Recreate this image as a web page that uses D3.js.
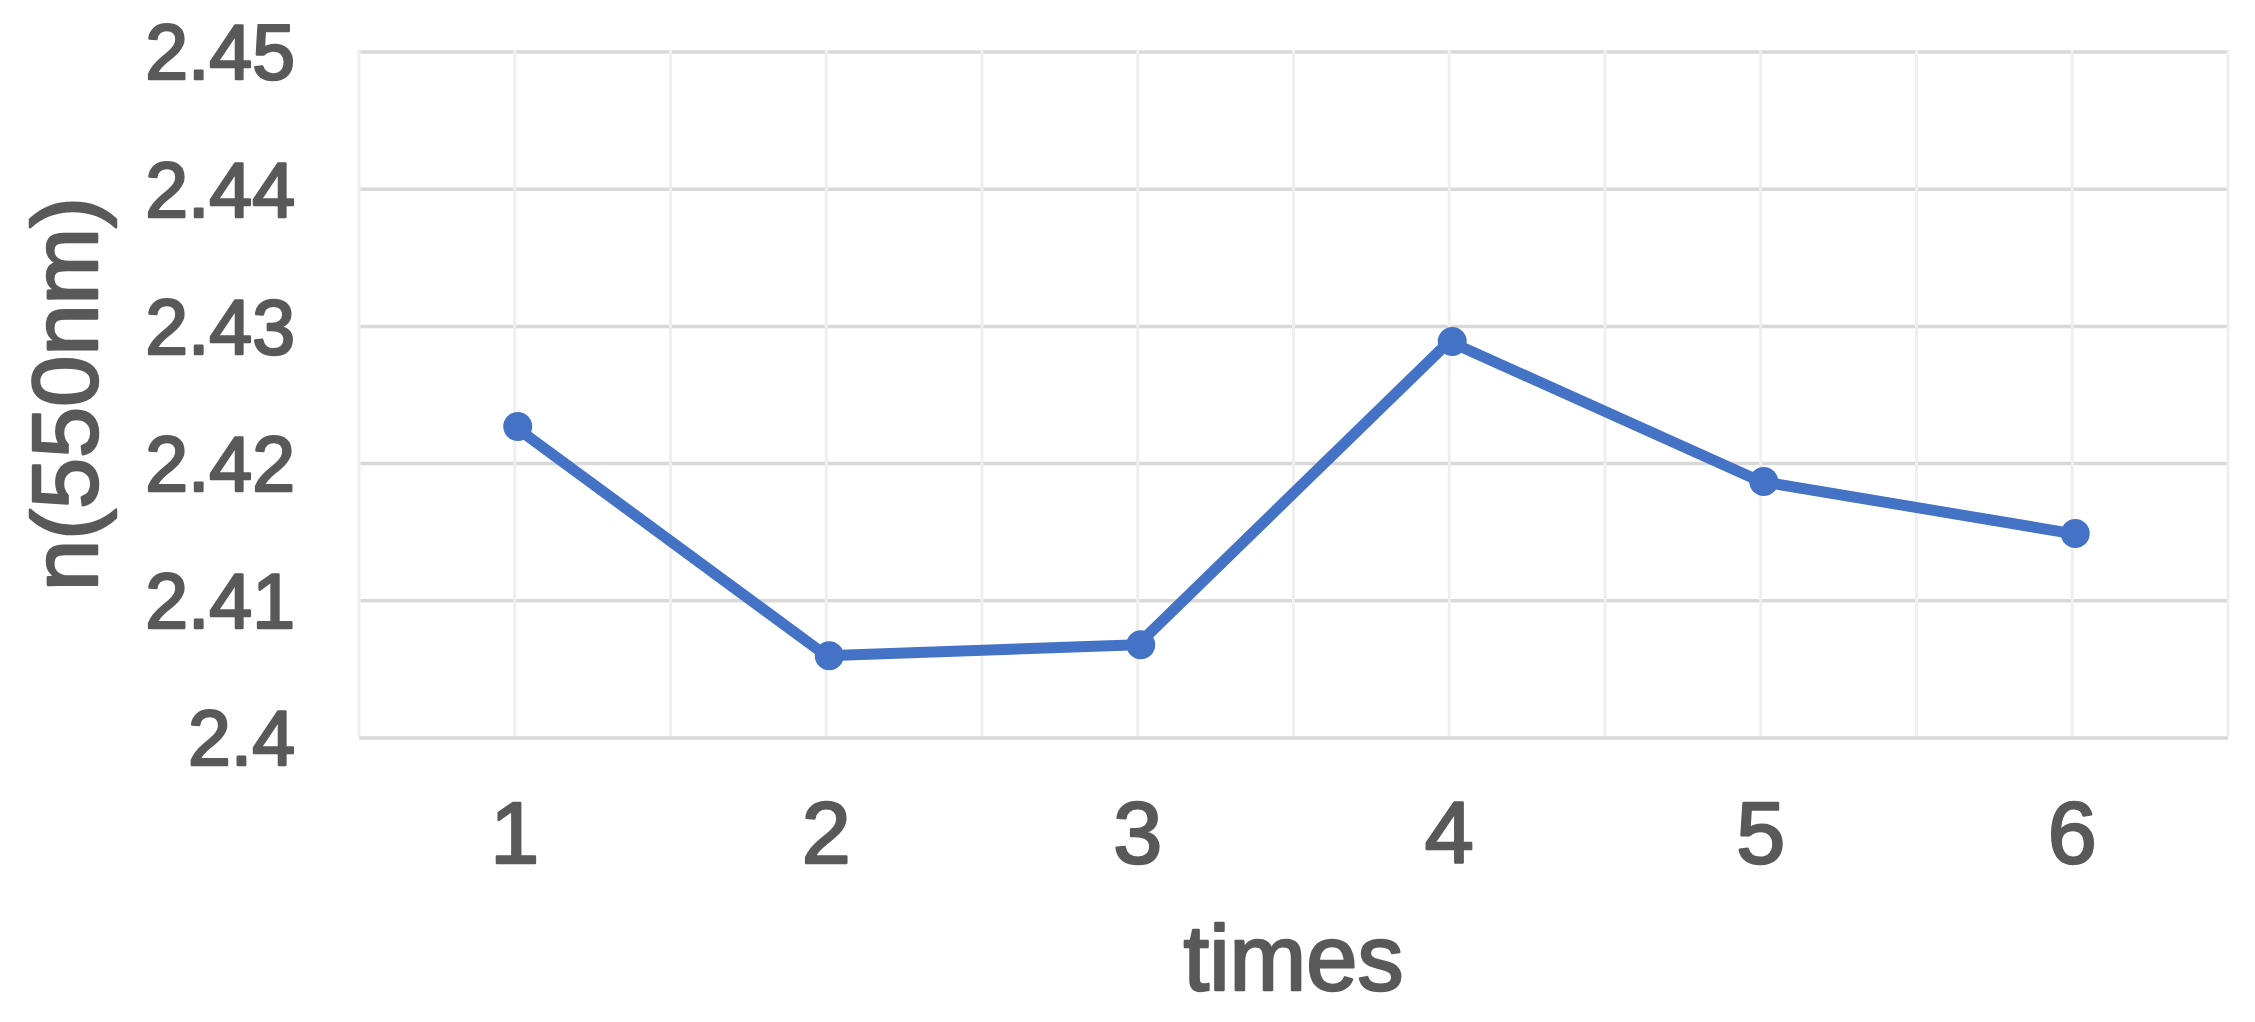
<!DOCTYPE html>
<html>
<head>
<meta charset="utf-8">
<script src="https://cdn.jsdelivr.net/npm/d3@7"></script>
<style>
    html, body { margin: 0; padding: 0; background: #fff; }
    svg { display: block; }
    text {
        font-family: "Liberation Sans", Arial, sans-serif;
        fill: #595959;
        stroke: #595959;
        stroke-width: 2.5px;
        stroke-linejoin: round;
    }
</style>
</head>
<body>
<svg id="chart"></svg>
<script>
var times = [1, 2, 3, 4, 5, 6];
var nValues = [2.4227, 2.4060, 2.4068, 2.4289, 2.4187, 2.4149];
var yTicks = [2.4, 2.41, 2.42, 2.43, 2.44, 2.45];
var yTickLabels = ['2.4', '2.41', '2.42', '2.43', '2.44', '2.45'];
var xTitle = 'times';
var yTitle = 'n(550nm)';

var W = 2255, H = 1022;
var m = {left: 359, right: 27, top: 52, bottom: 284};

var svg = d3.select('#chart').attr('width', W).attr('height', H);

var x = d3.scaleLinear().domain([0.5, 6.5]).range([m.left, W - m.right]);
var y = d3.scaleLinear().domain([2.4, 2.45]).range([H - m.bottom, m.top]);

// horizontal grid
svg.append('g').attr('class', 'hgrid')
    .selectAll('line').data(yTicks).enter().append('line')
    .attr('x1', x(0.5)).attr('x2', x(6.5))
    .attr('y1', function (d) { return y(d); })
    .attr('y2', function (d) { return y(d); })
    .attr('stroke', '#d9d9d9')
    .attr('stroke-width', 3.5);

// vertical grid: category centres and band edges
var vLines = d3.range(0.5, 6.51, 0.5);
svg.append('g').attr('class', 'vgrid')
    .selectAll('line').data(vLines).enter().append('line')
    .attr('x1', function (d) { return x(d); })
    .attr('x2', function (d) { return x(d); })
    .attr('y1', y(2.45) - 2)
    .attr('y2', y(2.4) - 2)
    .attr('stroke', '#efefef')
    .attr('stroke-width', 3);

// y tick labels
svg.append('g').attr('class', 'ylab')
    .selectAll('text').data(yTicks).enter().append('text')
    .attr('x', 295)
    .attr('y', function (d) { return y(d); })
    .attr('dy', '0.357em')
    .attr('text-anchor', 'end')
    .attr('font-size', 77)
    .text(function (d, i) { return yTickLabels[i]; });

// x tick labels
svg.append('g').attr('class', 'xlab')
    .selectAll('text').data(times).enter().append('text')
    .attr('x', function (d) { return x(d); })
    .attr('y', y(2.4) + 125)
    .attr('text-anchor', 'middle')
    .attr('font-size', 88)
    .text(function (d) { return d; });

// axis titles
svg.append('text')
    .attr('x', (x(0.5) + x(6.5)) / 2)
    .attr('y', 990)
    .attr('text-anchor', 'middle')
    .attr('font-size', 92)
    .text(xTitle);

svg.append('text')
    .attr('transform', 'translate(97,' + ((y(2.4) + y(2.45)) / 2 - 1) + ') rotate(-90)')
    .attr('text-anchor', 'middle')
    .attr('font-size', 92)
    .text(yTitle);

// series
var line = d3.line()
    .x(function (d, i) { return x(times[i]); })
    .y(function (d) { return y(d); });

svg.append('path')
    .datum(nValues)
    .attr('d', line)
    .attr('fill', 'none')
    .attr('stroke', '#4472c4')
    .attr('stroke-width', 11)
    .attr('stroke-linejoin', 'round');

svg.append('g').attr('class', 'pts')
    .selectAll('circle').data(nValues).enter().append('circle')
    .attr('cx', function (d, i) { return x(times[i]) + 3; })
    .attr('cy', function (d) { return y(d); })
    .attr('r', 14.5)
    .attr('fill', '#4472c4');
</script>
</body>
</html>
